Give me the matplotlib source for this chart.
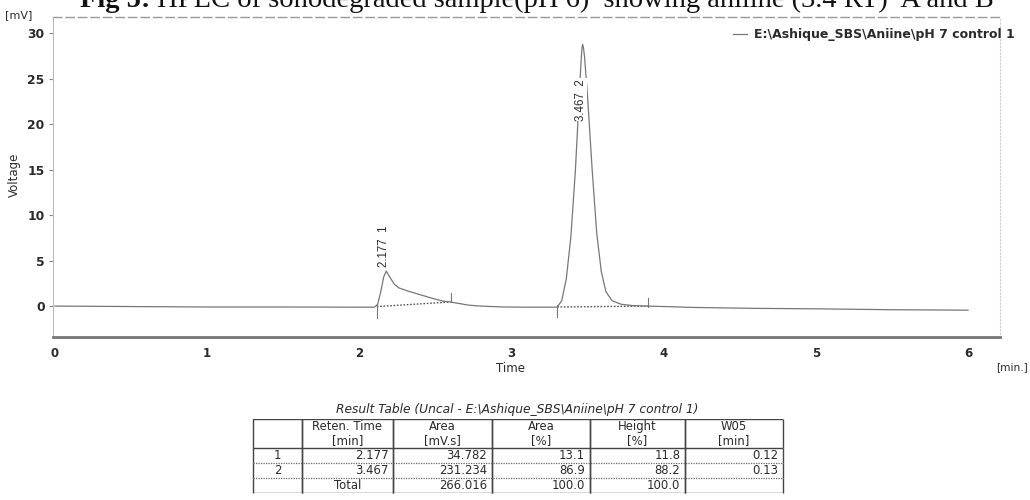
import matplotlib
matplotlib.use("Agg")
import matplotlib.pyplot as plt
from matplotlib.text import Annotation

# ---------------- data ----------------
time_min = [0.00, 0.50, 1.00, 1.50, 2.00, 2.10,
            2.12, 2.14, 2.16, 2.177, 2.20, 2.23, 2.26, 2.32, 2.40, 2.48, 2.55, 2.60,
            2.65, 2.72, 2.80, 2.95, 3.10, 3.30,
            3.33, 3.36, 3.39, 3.42, 3.44, 3.455, 3.462, 3.467, 3.473, 3.48, 3.50, 3.53,
            3.56, 3.59, 3.62, 3.66, 3.72, 3.80, 3.90, 4.20, 4.60, 5.00, 5.50, 6.00]
voltage_mv = [0.00, -0.05, -0.10, -0.10, -0.12, -0.12,
              0.20, 1.50, 3.20, 3.85, 3.20, 2.40, 2.00, 1.65, 1.25, 0.85, 0.55, 0.45,
              0.30, 0.10, 0.00, -0.10, -0.12, -0.12,
              0.60, 3.00, 7.60, 15.0, 21.5, 26.3, 28.2, 28.8, 28.4, 27.4, 23.0, 15.0,
              8.0, 3.8, 1.6, 0.6, 0.2, 0.05, 0.0, -0.15, -0.25, -0.30, -0.40, -0.45]

# integration baselines (start, end) per peak
base_t = [(2.115, 2.60), (3.30, 3.90)]
base_v = [(-0.05, 0.45), (-0.10, 0.00)]
# peak limit markers: (time, v_low, v_high)
marker_t = [2.115, 2.60, 3.30, 3.90]
marker_lo = [-1.3, 0.45, -1.2, -0.1]
marker_hi = [0.1, 1.4, 0.1, 0.9]

peak_rt = [2.177, 3.467]
peak_no = ["1", "2"]
peak_label_v = [4.3, 20.4]

x_ticks = [0, 1, 2, 3, 4, 5, 6]
y_ticks = [0, 5, 10, 15, 20, 25, 30]

series_name = "E:\\Ashique_SBS\\Aniine\\pH 7 control 1"
caption_bold = "Fig 5:"
caption_rest = " HPLC of sonodegraded sample(pH 6)  showing aniline (3.4 RT)  A and B"

# result table
tbl_header = ["", "Reten. Time\n[min]", "Area\n[mV.s]", "Area\n[%]", "Height\n[%]", "W05\n[min]"]
tbl_index = ["1", "2", ""]
tbl_ret = ["2.177", "3.467", "Total"]
tbl_area = ["34.782", "231.234", "266.016"]
tbl_area_pct = ["13.1", "86.9", "100.0"]
tbl_height_pct = ["11.8", "88.2", "100.0"]
tbl_w05 = ["0.12", "0.13", ""]

# ---------------- figure ----------------
W, H = 1030, 500
fig = plt.figure(figsize=(W / 100, H / 100), dpi=100)
plt.rcParams['font.family'] = ['DejaVu Sans']

ink = "#2a2a2a"
trace_col = "#777777"

def fx(px):
    return px / W

def fy(py):
    return 1 - py / H

ax = fig.add_axes([fx(53), fy(337), fx(1000) - fx(53), fy(17) - fy(337)])
ax.set_xlim(-0.013, 6.21)
ax.set_ylim(-3.4, 31.8)

ax.plot(time_min, voltage_mv, color=trace_col, lw=0.9, zorder=3)
for (t0, t1), (v0, v1) in zip(base_t, base_v):
    ax.plot([t0, t1], [v0, v1], color="#555555", lw=1.0, ls=(0, (1.2, 1.2)), zorder=2)
for t, lo, hi in zip(marker_t, marker_lo, marker_hi):
    ax.plot([t, t], [lo, hi], color="#777777", lw=0.8, zorder=2)

for rt, no, v in zip(peak_rt, peak_no, peak_label_v):
    ax.text(rt - 0.012, v, f"{rt:.3f}  {no}", rotation=90, ha="center", va="bottom",
            fontsize=8.3, family="Liberation Sans", color=ink, zorder=4,
            bbox=dict(facecolor="white", edgecolor="none", pad=0.3))

# spines
ax.spines["left"].set_color("#bbbbbb")
ax.spines["left"].set_linewidth(0.8)
ax.spines["top"].set_color("#999999")
ax.spines["top"].set_linestyle((0, (6, 3)))
ax.spines["top"].set_linewidth(1.0)
ax.spines["right"].set_color("#cccccc")
ax.spines["right"].set_linestyle((0, (1, 2)))
ax.spines["right"].set_linewidth(0.8)
ax.spines["bottom"].set_color("#777777")
ax.spines["bottom"].set_linewidth(2.0)

ax.set_xticks(x_ticks)
ax.set_xticklabels([str(t) for t in x_ticks], fontsize=8.5, fontweight="bold", color=ink)
ax.set_yticks(y_ticks)
ax.set_yticklabels([str(t) for t in y_ticks], fontsize=8.8, fontweight="bold", color=ink)
ax.tick_params(axis="x", length=0, pad=7)
ax.tick_params(axis="y", length=3, width=0.8, color="#888888", pad=3)

ax.set_xlabel("Time", fontsize=8.5, color=ink)
ax.xaxis.set_label_coords((510 - 53) / 947, (337 - 368) / 320)
ax.xaxis.label.set_va("center")
ax.set_ylabel("Voltage", fontsize=8.5, color=ink)
ax.yaxis.set_label_coords((14 - 53) / 947, (337 - 175) / 320)
ax.yaxis.label.set_va("center")

fig.text(fx(5), fy(15), "[mV]", fontsize=8, color=ink, ha="left", va="center")
fig.text(fx(996), fy(367), "[min.]", fontsize=7.6, color=ink, ha="left", va="center")

# legend
fig.lines.append(plt.Line2D([fx(733), fx(747)], [fy(34), fy(34)], color=trace_col, lw=0.9,
                            transform=fig.transFigure))
fig.text(fx(754), fy(34), series_name, fontsize=9.0, fontweight="bold", color=ink,
         ha="left", va="center")

# figure caption (clipped at top as in the scan)
t1 = fig.text(fx(80), fy(7), caption_bold, fontsize=20.5, fontweight="bold",
              family="Liberation Serif", color="#111111", ha="left", va="baseline")
ann = Annotation(caption_rest, xy=(1, 0), xycoords=t1, ha="left", va="bottom",
                 fontsize=20.5, family="Liberation Serif", color="#111111")
fig.add_artist(ann)

# ---------------- result table ----------------
fig.text(fx(517), fy(410), "Result Table (Uncal - " + series_name + ")", fontsize=8.8,
         style="italic", color=ink, ha="center", va="center")

tax = fig.add_axes([fx(253), fy(493), fx(783) - fx(253), fy(419) - fy(493)])
tax.set_axis_off()
rows = [list(r) for r in zip(tbl_index, tbl_ret, tbl_area, tbl_area_pct, tbl_height_pct, tbl_w05)]
col_px = [49, 91, 99, 98, 95, 98]
colw = [c / sum(col_px) for c in col_px]
table = tax.table(cellText=rows, colLabels=tbl_header, colWidths=colw,
                  bbox=[0, 0, 1, 1], cellLoc="right", edges="vertical")
table.auto_set_font_size(False)
for (r, c), cell in table.get_celld().items():
    cell.set_edgecolor("#444444")
    cell.set_linewidth(1.0)
    cell.set_height(29 if r == 0 else 15)
    txt = cell.get_text()
    txt.set_fontsize(8.4)
    txt.set_color(ink)
    if r == 0:
        txt.set_linespacing(1.05)
    if r == 0 or c == 0 or (r > 0 and rows[r - 1][c] == "Total"):
        txt.set_horizontalalignment("center")
        cell._loc = "center"
    else:
        cell.PAD = 0.05
tax.set_xlim(0, 1)
tax.set_ylim(0, 1)
# horizontal rules of the table
row_edges_px = [419, 448, 463, 478, 493]
for i, yp in enumerate(row_edges_px):
    yv = (493 - yp) / 74
    if i in (0, 1, len(row_edges_px) - 1):
        tax.axhline(yv, color="#444444", lw=1.0)
    else:
        tax.axhline(yv, color="#666666", lw=0.9, ls=(0, (1, 1)))

fig.savefig("out.png", dpi=100)
